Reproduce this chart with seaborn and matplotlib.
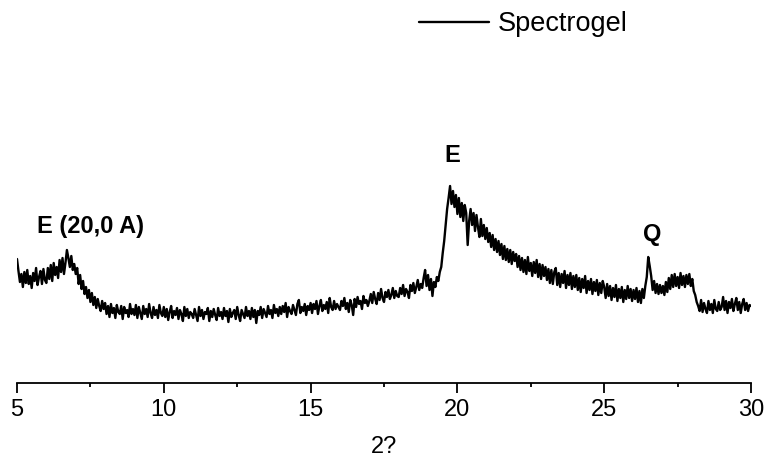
import numpy as np
import matplotlib
matplotlib.use('Agg')
import matplotlib.pyplot as plt
import seaborn as sns
from matplotlib.ticker import MultipleLocator

# 2-theta scan, 0.05 degree step from 5 to 30
two_theta = np.round(np.linspace(5.0, 30.0, 501), 2)

# intensity (arb. units), one row per degree
intensity = [
    1240, 1120, 1010, 1090, 960, 1110, 1000, 1130, 990, 1070, 950, 1100, 1020, 1150, 980, 1060, 1120, 990, 1140, 1030,      # 5
    1000, 1150, 1040, 1180, 1020, 1200, 1080, 1160, 1050, 1230, 1110, 1250, 1090, 1200, 1330, 1250, 1160, 1270, 1130, 1190,  # 6
    1090, 1150, 990, 1080, 940, 1020, 890, 960, 850, 930, 810, 900, 780, 860, 750, 840, 770, 720, 820, 740,                  # 7
    800, 690, 770, 660, 790, 700, 750, 650, 780, 710, 690, 770, 640, 760, 700, 730, 660, 790, 690, 740,                      # 8
    680, 780, 650, 760, 700, 640, 770, 690, 740, 660, 790, 700, 650, 760, 680, 730, 650, 780, 700, 670,                      # 9
    760, 660, 740, 630, 710, 770, 650, 720, 680, 750, 640, 730, 690, 620, 760, 670, 740, 650, 710, 690,                      # 10
    650, 740, 680, 620, 760, 670, 730, 640, 710, 690, 750, 620, 720, 660, 740, 680, 630, 750, 670, 710,                      # 11
    640, 750, 670, 720, 610, 740, 660, 700, 730, 640, 760, 680, 620, 730, 690, 650, 760, 670, 720, 640,                      # 12
    750, 660, 730, 600, 720, 680, 760, 650, 740, 700, 660, 770, 690, 730, 650, 780, 700, 740, 670, 760,                      # 13
    690, 770, 710, 800, 660, 760, 720, 690, 780, 730, 680, 790, 830, 700, 760, 720, 790, 680, 770, 730,                      # 14
    800, 700, 790, 740, 820, 690, 770, 830, 720, 780, 740, 810, 700, 850, 760, 730, 820, 740, 790, 760,                      # 15
    730, 820, 770, 850, 740, 800, 710, 830, 780, 680, 840, 760, 860, 790, 820, 740, 870, 800, 830, 770,                      # 16
    820, 890, 800, 910, 840, 790, 900, 830, 940, 850, 810, 910, 860, 930, 840, 880, 950, 850, 920, 870,                      # 17
    860, 950, 890, 980, 870, 940, 910, 850, 980, 920, 1000, 900, 960, 1030, 930, 990, 950, 1050, 1130, 970,                  # 18
    1080, 930, 1040, 870, 1010, 960, 1060, 1020, 1110, 1160, 1300, 1420, 1580, 1740, 1850, 1970, 1790, 1920, 1760, 1880,     # 19
    1690, 1850, 1660, 1800, 1620, 1780, 1700, 1380, 1620, 1740, 1580, 1700, 1520, 1680, 1560, 1460, 1640, 1470, 1580, 1440,  # 20
    1550, 1410, 1500, 1360, 1480, 1330, 1440, 1310, 1420, 1280, 1390, 1240, 1370, 1230, 1340, 1210, 1330, 1190, 1310, 1220,  # 21
    1290, 1160, 1270, 1130, 1250, 1110, 1230, 1090, 1260, 1120, 1200, 1070, 1210, 1100, 1230, 1060, 1190, 1040, 1180, 1070,  # 22
    1160, 1030, 1140, 1000, 1130, 990, 1110, 1150, 980, 1100, 960, 1090, 1000, 1120, 950, 1080, 980, 1100, 940, 1070,        # 23
    960, 1080, 930, 1050, 910, 1040, 950, 1070, 900, 1020, 930, 1040, 890, 1010, 920, 1030, 880, 1000, 900, 1020,            # 24
    960, 850, 990, 870, 970, 830, 950, 860, 980, 820, 940, 850, 960, 810, 930, 840, 970, 850, 940, 820,                      # 25
    930, 840, 950, 810, 920, 800, 940, 850, 970, 1060, 1260, 1170, 1070, 930, 1020, 900, 990, 890, 980, 900,                 # 26
    970, 880, 1010, 910, 1050, 940, 1080, 960, 1090, 970, 1060, 950, 1100, 980, 1070, 960, 1080, 990, 1090, 970,             # 27
    1040, 920, 880, 810, 770, 720, 830, 710, 800, 740, 700, 820, 730, 790, 700, 830, 740, 720, 810, 730,                     # 28
    760, 860, 730, 820, 700, 810, 750, 840, 720, 790, 850, 730, 810, 700, 790, 840, 730, 800, 720, 780,                      # 29
    770,                                                                                                                     # 30
]
assert len(intensity) == len(two_theta), len(intensity)

peak_labels = ['E (20,0 A)', 'E', 'Q']
peak_pos = [7.5, 19.82, 26.62]
peak_height = [1570, 2280, 1480]

sns.set_style('white')
plt.rcParams['font.family'] = ['Liberation Sans', 'DejaVu Sans']
plt.rcParams['text.color'] = 'black'
plt.rcParams['axes.labelcolor'] = 'black'
plt.rcParams['xtick.color'] = 'black'

narrow = ['Liberation Sans Narrow', 'Liberation Sans', 'DejaVu Sans']

fig = plt.figure(figsize=(7.66, 4.63), dpi=100)
ax = fig.add_axes([17 / 766, 80 / 463, 734 / 766, 343 / 463])

sns.lineplot(ax=ax, x=two_theta, y=intensity, color='black', linewidth=1.7,
             label='Spectrogel')

ax.set_xlim(5, 30)
ax.set_ylim(0, 3430)
ax.xaxis.set_major_locator(MultipleLocator(5))
ax.xaxis.set_minor_locator(MultipleLocator(2.5))
ax.tick_params(axis='x', which='major', direction='out', length=7.5, width=1.3,
               pad=4, bottom=True, color='black')
ax.tick_params(axis='x', which='minor', direction='out', length=3, width=1.3,
               bottom=True, color='black')
for t in ax.get_xticklabels():
    t.set_family(narrow)
    t.set_fontsize(17)
ax.set_yticks([])
ax.set_ylabel('')
for side in ['top', 'left', 'right']:
    ax.spines[side].set_visible(False)
ax.spines['bottom'].set_linewidth(1.3)
ax.spines['bottom'].set_color('black')

ax.set_xlabel('2?', fontsize=17, family=narrow, labelpad=11)

for lab, xp, yp in zip(peak_labels, peak_pos, peak_height):
    ax.text(xp, yp, lab, fontsize=17, fontweight='bold', ha='center', va='center')

ax.legend(loc='center left', bbox_to_anchor=(419 / 766, 1 - 24 / 463),
          bbox_transform=fig.transFigure, frameon=False, fontsize=19.5,
          handlelength=2.6, handletextpad=0.3, borderpad=0, borderaxespad=0)

fig.savefig('out.png', dpi=100)
